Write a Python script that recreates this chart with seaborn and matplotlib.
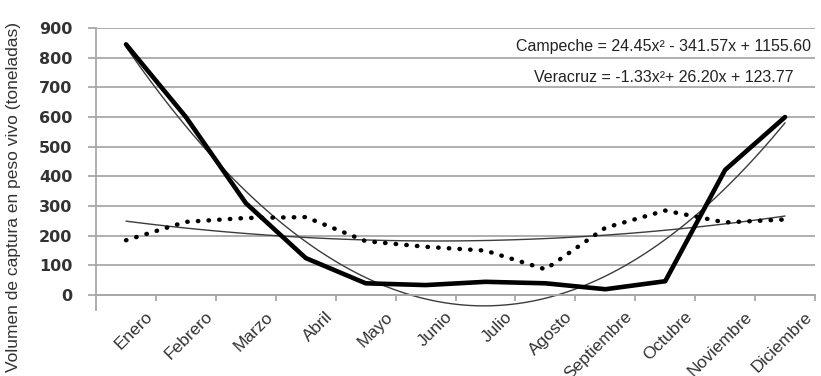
import numpy as np
import pandas as pd
import matplotlib
matplotlib.use("Agg")
import matplotlib.pyplot as plt
import seaborn as sns

meses = ["Enero", "Febrero", "Marzo", "Abril", "Mayo", "Junio", "Julio",
         "Agosto", "Septiembre", "Octubre", "Noviembre", "Diciembre"]
campeche = [845, 600, 310, 125, 40, 34, 45, 40, 20, 47, 422, 600]
veracruz = [185, 247, 260, 263, 182, 163, 150, 87, 227, 285, 245, 255]
y_ticks = [0, 100, 200, 300, 400, 500, 600, 700, 800, 900]
eq_campeche = "Campeche = 24.45x² - 341.57x + 1155.60"
eq_veracruz = "Veracruz = -1.33x²+ 26.20x + 123.77"
y_label = "Volumen de captura en peso vivo (toneladas)"

sns.set_style("white")
plt.rcParams["font.family"] = ["Liberation Sans", "DejaVu Sans"]

df = pd.DataFrame({"pos": np.arange(len(meses)), "mes": meses,
                   "Campeche": campeche, "Veracruz": veracruz})

fig = plt.figure(figsize=(8.21, 3.76), dpi=100)
ax = fig.add_axes([0.117, 0.1755, 0.8757, 0.75])

grid_c = "#a8a8a8"
for v in y_ticks:
    ax.axhline(v, color=grid_c, lw=1.3, zorder=0)

# trend lines (quadratic fits)
sns.regplot(data=df, x="pos", y="Veracruz", order=2, scatter=False, ci=None,
            ax=ax, line_kws=dict(color="#3c3c3c", lw=1.0, zorder=2))
sns.regplot(data=df, x="pos", y="Campeche", order=2, scatter=False, ci=None,
            ax=ax, line_kws=dict(color="#3c3c3c", lw=1.0, zorder=2))

sns.lineplot(data=df, x="pos", y="Veracruz", ax=ax, color="black", lw=3.2,
             linestyle=(0, (0.1, 2.3)), dash_capstyle="round", zorder=3)
sns.lineplot(data=df, x="pos", y="Campeche", ax=ax, color="black", lw=3.3,
             solid_capstyle="round", zorder=4)

for s in ["top", "right"]:
    ax.spines[s].set_visible(False)
ax.spines["bottom"].set_position(("data", 0))
ax.spines["bottom"].set_color(grid_c)
ax.spines["bottom"].set_linewidth(1.3)
ax.spines["left"].set_color(grid_c)
ax.spines["left"].set_linewidth(1.3)

ax.set_xlim(-0.5, len(meses) - 0.5)
ax.set_ylim(-50, 900)

ax.set_xticks(np.arange(len(meses)) + 0.5)
ax.set_xticklabels(meses, rotation=45, ha="right", va="top",
                   rotation_mode="default", fontsize=12.5, color="#333333")
ax.set_yticks(y_ticks)
ax.set_yticklabels([str(v) for v in y_ticks], fontsize=11.5, color="#333333",
                   family="DejaVu Sans", fontweight="bold")

ax.tick_params(axis="x", which="both", direction="out", length=4, width=1.3,
               color=grid_c, pad=6, bottom=True)
ax.tick_params(axis="y", which="both", direction="out", length=6, width=1.3,
               color=grid_c, pad=11, left=True)

ax.set_xlabel("")
ax.set_ylabel(y_label, fontsize=12.5, color="#333333")
ax.yaxis.set_label_coords(-0.104, 0.40)

ax.text(0.789, 0.933, eq_campeche, transform=ax.transAxes, ha="center",
        va="center", fontsize=11.5, color="#222222")
ax.text(0.789, 0.823, eq_veracruz, transform=ax.transAxes, ha="center",
        va="center", fontsize=11.5, color="#222222")

fig.savefig("out.png", dpi=100)
